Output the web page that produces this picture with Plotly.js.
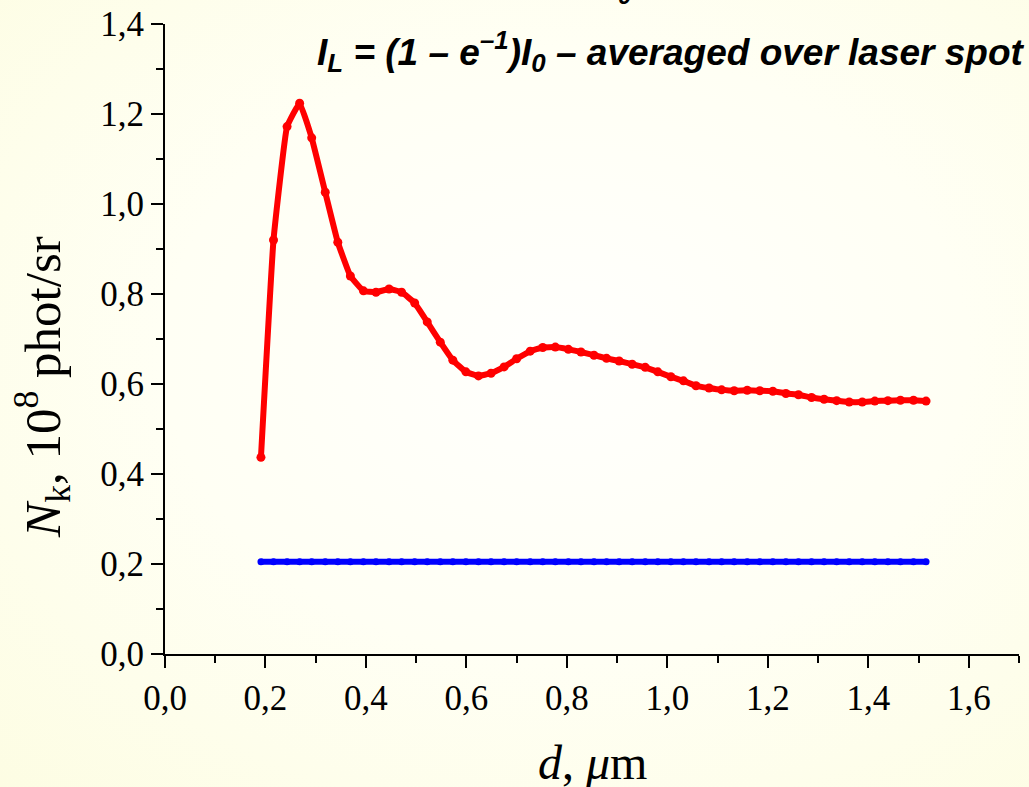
<!DOCTYPE html>
<html>
<head>
<meta charset="utf-8">
<script src="https://cdn.plot.ly/plotly-3.0.1.min.js"></script>
<style>
  html, body { margin: 0; padding: 0; }
  body {
    width: 1029px; height: 787px; overflow: hidden;
    background: radial-gradient(ellipse at 55% 45%, #FFFFFD 0%, #FFFFF4 50%, #FDFDE3 100%);
  }
  #chart { width: 1029px; height: 787px; }
</style>
</head>
<body>
<div id="chart"></div>
<script>
// film thickness d, micrometres
const thickness = [0.191, 0.216, 0.243, 0.268, 0.292, 0.319, 0.344, 0.369, 0.395, 0.420,
  0.446, 0.471, 0.497, 0.522, 0.548, 0.573, 0.599, 0.624, 0.649, 0.675,
  0.700, 0.727, 0.752, 0.777, 0.803, 0.828, 0.854, 0.879, 0.904, 0.930,
  0.956, 0.981, 1.007, 1.032, 1.057, 1.083, 1.108, 1.133, 1.159, 1.184,
  1.210, 1.236, 1.261, 1.287, 1.312, 1.337, 1.362, 1.388, 1.413, 1.439,
  1.464, 1.490, 1.515];

// photon yield N_k, 10^8 phot/sr, averaged over the laser spot
const yieldAveraged = [0.437, 0.920, 1.172, 1.224, 1.147, 1.026, 0.915, 0.840, 0.807, 0.804,
  0.811, 0.804, 0.780, 0.738, 0.693, 0.653, 0.627, 0.618, 0.624, 0.638,
  0.656, 0.673, 0.681, 0.682, 0.677, 0.671, 0.664, 0.657, 0.651, 0.644,
  0.637, 0.627, 0.616, 0.607, 0.596, 0.591, 0.587, 0.585, 0.586, 0.585,
  0.584, 0.579, 0.576, 0.570, 0.566, 0.563, 0.560, 0.560, 0.562, 0.563,
  0.564, 0.564, 0.562];

// reference level
const yieldReference = [0.205, 0.205, 0.205, 0.205, 0.205, 0.205, 0.205, 0.205, 0.205, 0.205,
  0.205, 0.205, 0.205, 0.205, 0.205, 0.205, 0.205, 0.205, 0.205, 0.205,
  0.205, 0.205, 0.205, 0.205, 0.205, 0.205, 0.205, 0.205, 0.205, 0.205,
  0.205, 0.205, 0.205, 0.205, 0.205, 0.205, 0.205, 0.205, 0.205, 0.205,
  0.205, 0.205, 0.205, 0.205, 0.205, 0.205, 0.205, 0.205, 0.205, 0.205,
  0.205, 0.205, 0.205];

const xTicks = [0, 0.2, 0.4, 0.6, 0.8, 1.0, 1.2, 1.4, 1.6];
const xTickText = ['0,0', '0,2', '0,4', '0,6', '0,8', '1,0', '1,2', '1,4', '1,6'];
const xMinorTicks = [0.1, 0.3, 0.5, 0.7, 0.9, 1.1, 1.3, 1.5, 1.7];
const yTicks = [0, 0.2, 0.4, 0.6, 0.8, 1.0, 1.2, 1.4];
const yTickText = ['0,0', '0,2', '0,4', '0,6', '0,8', '1,0', '1,2', '1,4'];
const yMinorTicks = [0.1, 0.3, 0.5, 0.7, 0.9, 1.1, 1.3];

const serif = 'Liberation Serif, Times New Roman, serif';
const sans = 'Liberation Sans, Arial, sans-serif';

const traces = [
  {
    x: thickness, y: yieldReference, type: 'scatter', mode: 'lines+markers',
    line: { color: '#0000FF', width: 6 },
    marker: { color: '#0000FF', size: 7 },
    hoverinfo: 'x+y'
  },
  {
    x: thickness, y: yieldAveraged, type: 'scatter', mode: 'lines+markers',
    line: { color: '#FF0000', width: 6, shape: 'spline', smoothing: 0.3 },
    marker: { color: '#FF0000', size: 9 },
    hoverinfo: 'x+y'
  }
];

function axis(extra) {
  return Object.assign({
    showgrid: false, zeroline: false, showline: true,
    linecolor: '#000', linewidth: 2,
    ticks: 'outside', ticklen: 12, tickwidth: 2, tickcolor: '#000',
    tickfont: { family: serif, size: 35, color: '#000' },
    tickmode: 'array', fixedrange: true
  }, extra);
}

const layout = {
  width: 1029, height: 787,
  margin: { l: 165, r: 10, t: 24, b: 133 },
  paper_bgcolor: 'rgba(0,0,0,0)',
  plot_bgcolor: 'rgba(0,0,0,0)',
  showlegend: false,
  xaxis: axis({
    range: [0, 1.7], tickvals: xTicks, ticktext: xTickText,
    minor: { tickvals: xMinorTicks, ticklen: 7, tickwidth: 2, tickcolor: '#000', ticks: 'outside' }
  }),
  yaxis: axis({
    range: [0, 1.4], tickvals: yTicks, ticktext: yTickText,
    minor: { tickvals: yMinorTicks, ticklen: 7, tickwidth: 2, tickcolor: '#000', ticks: 'outside' }
  }),
  annotations: [
    {
      xref: 'paper', yref: 'paper', x: 1.009, y: 0.956, xanchor: 'right', yanchor: 'middle',
      showarrow: false,
      text: '<b><i>I<sub>L</sub> = (1 – e<sup>–1</sup>)I<sub>0</sub> – averaged over laser spot</i></b>',
      font: { family: sans, size: 37, color: '#000' }
    },
    {
      xref: 'paper', yref: 'paper', x: 0.539, y: 1.045, xanchor: 'center', yanchor: 'middle',
      showarrow: false, text: '<b><i>0</i></b>',
      font: { family: sans, size: 24, color: '#000' }
    },
    {
      xref: 'paper', yref: 'paper', x: -0.144, y: 0.424, xanchor: 'center', yanchor: 'middle',
      showarrow: false, textangle: -90,
      text: '<i>N</i><sub>k</sub>, 10<sup>8</sup> phot/sr',
      font: { family: serif, size: 51, color: '#000' }
    },
    {
      xref: 'paper', yref: 'paper', x: 0.5, y: -0.172, xanchor: 'center', yanchor: 'middle',
      showarrow: false,
      text: '<i>d</i>, <i>μ</i>m',
      font: { family: serif, size: 48, color: '#000' }
    }
  ]
};

Plotly.newPlot('chart', traces, layout, { staticPlot: true, displayModeBar: false });
</script>
</body>
</html>
